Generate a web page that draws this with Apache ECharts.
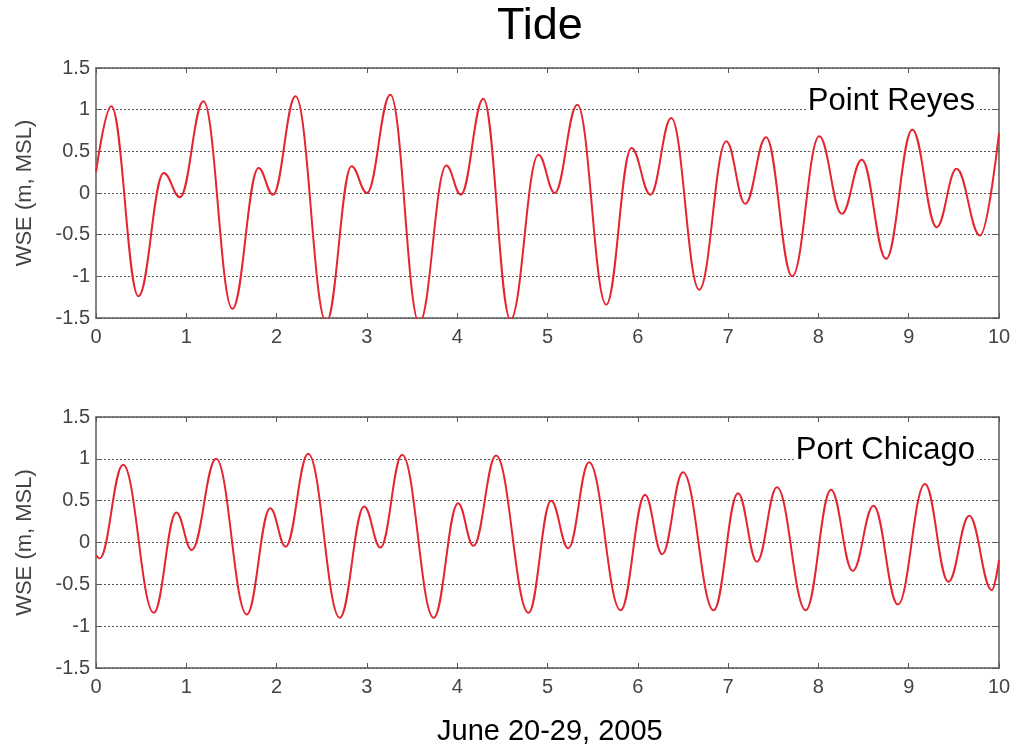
<!DOCTYPE html>
<html>
<head>
<meta charset="utf-8">
<title>Tide</title>
<script src="https://cdn.jsdelivr.net/npm/echarts@6/dist/echarts.min.js"></script>
<style>
  html, body { margin: 0; padding: 0; background: #fff; }
  #chart { width: 1017px; height: 748px; }
</style>
</head>
<body>
<div id="chart"></div>
<script>
// time in days, turning points of each record
var reyesT = [0, 0.17, 0.47, 0.75, 0.93, 1.19, 1.51, 1.80, 1.96, 2.21, 2.55, 2.83, 3.0, 3.26, 3.58, 3.88, 4.04, 4.29, 4.59,
  4.90, 5.08, 5.33, 5.65, 5.93, 6.14, 6.37, 6.68, 6.98, 7.19, 7.42, 7.71, 8.01, 8.26, 8.48, 8.75, 9.04, 9.31, 9.53, 9.79, 10];
var reyesV = [0.25, 1.04, -1.24, 0.24, -0.05, 1.10, -1.39, 0.30, -0.02, 1.16, -1.55, 0.32, 0.0, 1.18, -1.56, 0.33, -0.02, 1.13, -1.52,
  0.46, 0.0, 1.06, -1.34, 0.54, -0.02, 0.90, -1.16, 0.62, -0.13, 0.67, -1.0, 0.68, -0.25, 0.40, -0.79, 0.76, -0.41, 0.29, -0.51, 0.72];

var chicagoT = [0, 0.04, 0.30, 0.64, 0.89, 1.06, 1.33, 1.67, 1.93, 2.10, 2.35, 2.70, 2.97, 3.15, 3.39, 3.74, 4.01, 4.18, 4.43,
  4.79, 5.04, 5.23, 5.46, 5.81, 6.08, 6.27, 6.50, 6.84, 7.11, 7.32, 7.54, 7.86, 8.14, 8.38, 8.61, 8.88, 9.18, 9.44, 9.67, 9.92, 10];
var chicagoV = [-0.15, -0.19, 0.93, -0.84, 0.36, -0.09, 1.0, -0.86, 0.41, -0.05, 1.06, -0.90, 0.43, -0.06, 1.05, -0.90, 0.47, -0.04, 1.04,
  -0.84, 0.50, -0.07, 0.96, -0.81, 0.57, -0.14, 0.84, -0.81, 0.59, -0.23, 0.66, -0.81, 0.63, -0.34, 0.44, -0.74, 0.70, -0.47, 0.32, -0.57, -0.21];

var xTicks = [0, 10, 1];
var yTicks = [-1.5, 1.5, 0.5];

var font = '"Liberation Sans", Arial, Helvetica, sans-serif';
var frame = '#5a5a5a';

function pairs(t, v) {
  return t.map(function (x, i) { return [x, v[i]]; });
}

function xAxisFor(grid, pos) {
  return {
    type: 'value', gridIndex: grid, position: pos,
    min: xTicks[0], max: xTicks[1], interval: xTicks[2],
    axisLine: { show: true, onZero: false, lineStyle: { color: frame, width: 1.5 } },
    axisTick: { show: true, inside: true, length: 5, lineStyle: { color: frame } },
    axisLabel: { show: pos === 'bottom', margin: 9, color: '#444', fontSize: 20, fontFamily: font },
    splitLine: { show: false },
  };
}

function yAxisFor(grid, pos) {
  var a = {
    type: 'value', gridIndex: grid, position: pos,
    min: yTicks[0], max: yTicks[1], interval: yTicks[2],
    axisLine: { show: true, onZero: false, lineStyle: { color: frame, width: 1.5 } },
    axisTick: { show: true, inside: true, length: 5, lineStyle: { color: frame } },
    axisLabel: { show: pos === 'left', margin: 6, color: '#444', fontSize: 20, fontFamily: font },
    splitLine: { show: false },
  };
  if (pos === 'left') {
    a.name = 'WSE (m, MSL)';
    a.nameLocation = 'middle';
    a.nameGap = 60;
    a.nameTextStyle = { color: '#444', fontSize: 22, fontFamily: font };
    a.splitLine = { show: true, lineStyle: { color: '#555', type: [2, 2], width: 1 } };
  }
  return a;
}

var myChart = echarts.init(document.getElementById('chart'), null, { renderer: 'canvas' });
myChart.setOption({
  backgroundColor: '#fff',
  animation: false,
  title: [
    { text: 'Tide', left: 497, top: 4, padding: 0,
      textStyle: { fontSize: 45, fontWeight: 'normal', color: '#000', fontFamily: font, lineHeight: 46 } },
    { text: 'Point Reyes', right: 40, top: 85, padding: [0, 2], backgroundColor: '#fff',
      textStyle: { fontSize: 31, fontWeight: 'normal', color: '#000', fontFamily: font, lineHeight: 32 } },
    { text: 'Port Chicago', right: 40, top: 434, padding: [0, 2], backgroundColor: '#fff',
      textStyle: { fontSize: 31, fontWeight: 'normal', color: '#000', fontFamily: font, lineHeight: 32 } },
    { text: 'June 20-29, 2005', left: 437, top: 717, padding: 0,
      textStyle: { fontSize: 29, fontWeight: 'normal', color: '#000', fontFamily: font, lineHeight: 30 } },
  ],
  grid: [
    { left: 96, right: 18, top: 68, height: 250 },
    { left: 96, right: 18, top: 417, height: 251 },
  ],
  xAxis: [xAxisFor(0, 'bottom'), xAxisFor(0, 'top'), xAxisFor(1, 'bottom'), xAxisFor(1, 'top')],
  yAxis: [yAxisFor(0, 'left'), yAxisFor(0, 'right'), yAxisFor(1, 'left'), yAxisFor(1, 'right')],
  series: [{
    name: 'Point Reyes',
    type: 'line',
    xAxisIndex: 0,
    yAxisIndex: 0,
    data: pairs(reyesT, reyesV),
    smooth: 0.4,
    smoothMonotone: 'x',
    showSymbol: false,
    clip: true,
    lineStyle: { color: '#e3262f', width: 2 },
  }, {
    name: 'Port Chicago',
    type: 'line',
    xAxisIndex: 2,
    yAxisIndex: 2,
    data: pairs(chicagoT, chicagoV),
    smooth: 0.4,
    smoothMonotone: 'x',
    showSymbol: false,
    clip: true,
    lineStyle: { color: '#e3262f', width: 2 },
  }, ],
});
</script>
</body>
</html>
